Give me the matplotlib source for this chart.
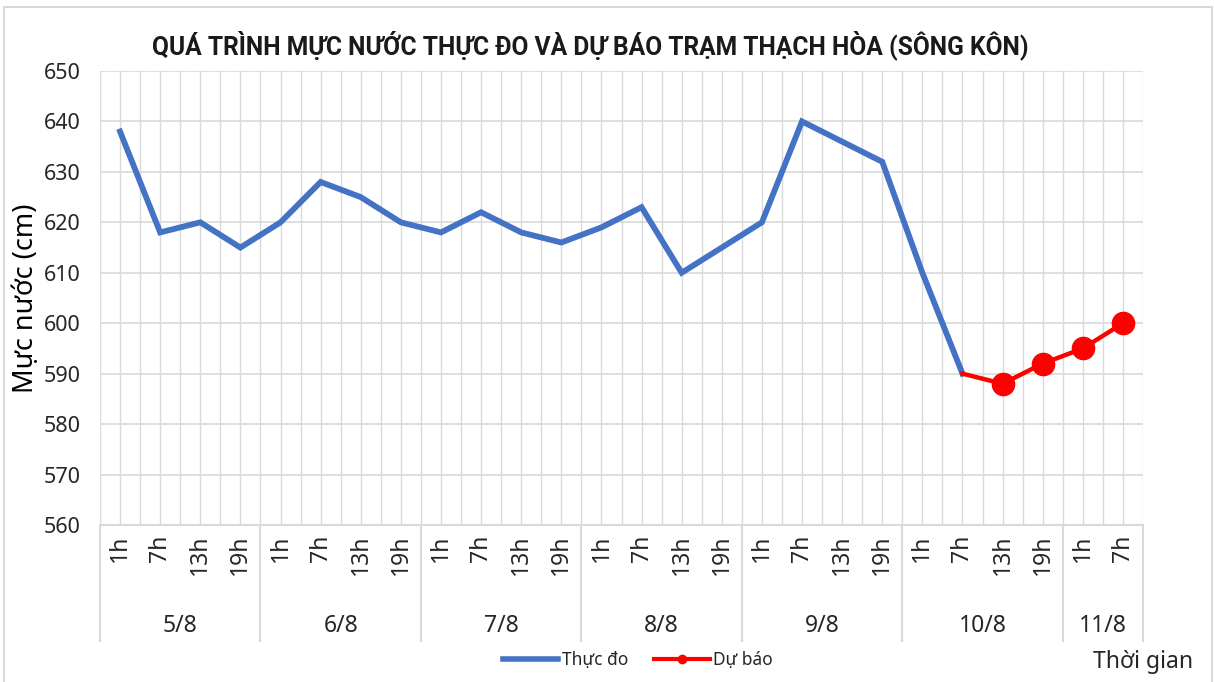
import matplotlib.pyplot as plt
from matplotlib.patches import Rectangle
from matplotlib.lines import Line2D
import matplotlib.transforms as mtransforms

plt.rcParams['font.family'] = ['Noto Sans', 'DejaVu Sans']
plt.rcParams['text.color'] = '#262626'
plt.rcParams['xtick.color'] = '#262626'
plt.rcParams['ytick.color'] = '#262626'

# du lieu
ngay = ['5/8', '6/8', '7/8', '8/8', '9/8', '10/8', '11/8']
so_gio = [4, 4, 4, 4, 4, 4, 2]
gio = ['1h', '7h', '13h', '19h'] * 6 + ['1h', '7h']
thuc_do = [638, 618, 620, 615, 620, 628, 625, 620, 618, 622, 618, 616,
           619, 623, 610, 615, 620, 640, 636, 632, 610, 590]
du_bao = [590, 588, 592, 595, 600]

W, H = 1214, 682
fig = plt.figure(figsize=(W / 100, H / 100), dpi=100)
ax = fig.add_axes([100 / W, 1 - 525 / H, 1043 / W, 454 / H])

n = len(gio)
x_td = list(range(len(thuc_do)))
x_db = list(range(len(thuc_do) - 1, len(thuc_do) - 1 + len(du_bao)))

grid_c = '#d9d9d9'
# luoi doc: ca tam va bien moi moc
for k in range(2 * n + 1):
    ax.axvline(-0.5 + k * 0.5, color=grid_c, lw=1, zorder=0)
for yv in range(560, 651, 10):
    ax.axhline(yv, color=grid_c, lw=1.2, zorder=0)

ax.plot(x_td, thuc_do, color='#4472c4', lw=4.2, solid_joinstyle='miter', zorder=3)
ax.plot(x_db, du_bao, color='#ff0000', lw=3.2, zorder=4)
ax.plot(x_db[1:], du_bao[1:], 'o', color='#ff0000', ms=16, zorder=5)

ax.set_xlim(-0.5, n - 0.5)
ax.set_ylim(560, 650)
ax.set_yticks(range(560, 651, 10))
ax.set_xticks(range(n))
ax.set_xticklabels(gio, rotation=90, fontsize=16.5)
ax.tick_params(axis='x', length=0, pad=7)
ax.tick_params(axis='y', length=0, pad=14, labelsize=15.5)
for s in ['top', 'right', 'left']:
    ax.spines[s].set_visible(False)
ax.spines['bottom'].set_color(grid_c)
ax.spines['bottom'].set_linewidth(1.5)

# nhom ngay
trans = mtransforms.blended_transform_factory(ax.transData, ax.transAxes)
start = -0.5
bounds = [start]
for d, c in zip(ngay, so_gio):
    ax.text(start + c / 2, -0.222, d, transform=trans, ha='center', va='center',
            fontsize=16.5)
    start += c
    bounds.append(start)
for b in bounds:
    ax.plot([b, b], [0, -0.255], transform=trans, color=grid_c, lw=1.5,
            clip_on=False)

ax.set_ylabel('Mực nước (cm)', fontsize=19.5)
ax.yaxis.set_label_coords(-60 / 1043, 0.5)

fig.text(590 / W, 1 - 45 / H, 'QUÁ TRÌNH MỰC NƯỚC THỰC ĐO VÀ DỰ BÁO TRẠM THẠCH HÒA (SÔNG KÔN)',
         ha='center', va='center', fontsize=17.7, fontweight='bold',
         family=['Roboto', 'DejaVu Sans'], color='#1a1a1a')
fig.text(1193 / W, 1 - 662 / H, 'Thời gian', ha='right', va='center', fontsize=16.5)

handles = [Line2D([], [], color='#4472c4', lw=4),
           Line2D([], [], color='#ff0000', lw=3, marker='o', ms=6)]
fig.legend(handles, ['Thực đo', 'Dự báo'], loc='center', ncol=2, frameon=False,
           bbox_to_anchor=(638 / W, 1 - 660 / H), fontsize=12.5,
           handlelength=3.2, handletextpad=0.2, columnspacing=1.5)

fig.patches.append(Rectangle((4 / W, -0.01), 1208 / W, 1 - 7 / H + 0.01,
                             transform=fig.transFigure, fill=False,
                             edgecolor=grid_c, lw=1.5))

fig.savefig('out.png', dpi=100)
